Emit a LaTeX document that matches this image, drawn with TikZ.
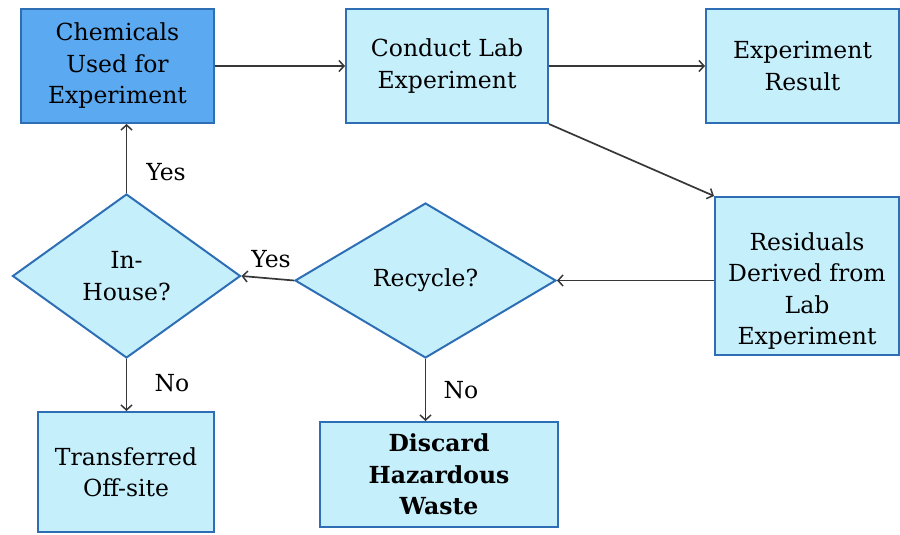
\documentclass[tikz,border=0pt]{standalone}
\usepackage{fontspec}
\setmainfont{DejaVu Serif}
\usetikzlibrary{shapes.geometric,arrows.meta}
\definecolor{lightfill}{RGB}{198,239,252}
\definecolor{darkfill}{RGB}{91,169,240}
\definecolor{edgeblue}{RGB}{46,110,180}
\definecolor{arrowgray}{RGB}{55,55,55}
\begin{document}
\begin{tikzpicture}[x=1pt,y=-1pt,
  every node/.style={font=\fontsize{23.5}{31.5}\selectfont, align=center, inner sep=0pt},
  procbox/.style={rectangle, draw=edgeblue, line width=2pt, fill=lightfill},
  decide/.style={diamond, draw=edgeblue, line width=2pt, fill=lightfill, aspect=1.4},
  conn/.style={draw=arrowgray, line width=1.7pt, -{Straight Barb[length=5pt,width=11pt,line width=1.5pt]}},
  lbl/.style={text=black}
]
\useasboundingbox (0,0) rectangle (900,535);
% boxes
\node[procbox, fill=darkfill, minimum width=193pt, minimum height=114pt] (chem) at (117.5,66) {Chemicals\\Used for\\Experiment};
\node[procbox, minimum width=202pt, minimum height=114pt] (cond) at (447,66) {Conduct Lab\\Experiment};
\node[procbox, minimum width=193pt, minimum height=114pt] (res) at (802.5,66) {Experiment\\Result};
\node[procbox, minimum width=184pt, minimum height=158pt] (resid) at (807,276) {};
\node at (807,291) {Residuals\\Derived from\\Lab\\Experiment};
\node[decide, minimum width=261pt, minimum height=155pt] (recy) at (425.5,280.5) {Recycle?};
\node[decide, minimum width=228pt, minimum height=164pt] (inh) at (126.5,276) {In-\\House?};
\node[procbox, minimum width=176pt, minimum height=120pt] (trans) at (126,472) {Transferred\\Off-site};
\node[procbox, minimum width=238pt, minimum height=105pt] (disc) at (439,474.5) {\bfseries Discard\\\bfseries Hazardous\\\bfseries Waste};
% connectors
\draw[conn] (chem.east) -- (cond.west);
\draw[conn] (cond.east) -- (res.west);
\draw[conn] (cond.south east) -- (resid.north west);
\draw[conn] (resid.west |- recy.east) -- (recy.east);
\draw[conn] (recy.west) -- (inh.east);
\draw[conn] (inh.north) -- (chem.south -| inh.north);
\draw[conn] (inh.south) -- (trans.north -| inh.south);
\draw[conn] (recy.south) -- (disc.north -| recy.south);
% labels
\node[lbl] (y1) at (166,172) {Yes};
\node[lbl] (y2) at (271,259) {Yes};
\node[lbl] (n1) at (172,383) {No};
\node[lbl] (n2) at (461,390) {No};
\end{tikzpicture}
\end{document}
